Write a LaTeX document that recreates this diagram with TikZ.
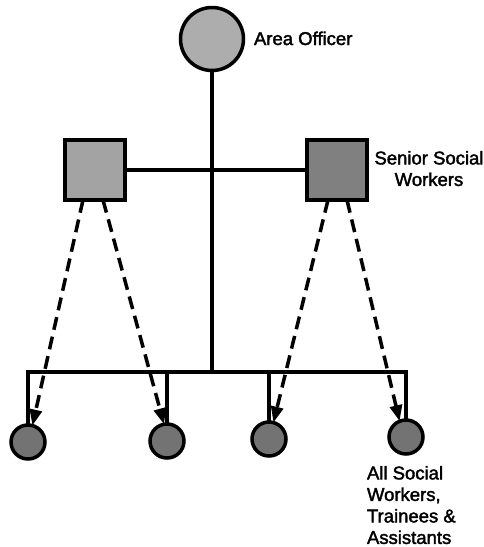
\documentclass[tikz,border=0pt]{standalone}
\usepackage{fontspec}
\setmainfont{Liberation Sans}
\newfontfamily\lblfont[FakeBold=2]{Liberation Sans}
\usetikzlibrary{arrows.meta,calc}
\begin{document}
\begin{tikzpicture}[x=1pt,y=-1pt,
  every node/.style={inner sep=0pt, outer sep=0pt},
  edge/.style={line width=3.5pt},
  head/.style={circle, draw, line width=3.5pt, fill=black!32, minimum size=63pt},
  senior/.style={rectangle, draw, line width=3.5pt, minimum size=60pt},
  staff/.style={circle, draw, line width=3.5pt, fill=black!55, minimum size=34pt},
  link/.style={line width=3.5pt, dash pattern=on 13pt off 7pt,
    -{Triangle[length=16pt,width=12pt]}},
  lbl/.style={font=\lblfont\fontsize{18.5}{21.5}\selectfont}
]
\useasboundingbox (0,0) rectangle (484,547);

% officer, senior workers and staff
\node[head] (top) at (212,39) {};
\node[senior, fill=black!36] (ls) at (95,170) {};
\node[senior, fill=black!50] (rs) at (337,170) {};
\node[staff] (c1) at (28,442) {};
\node[staff] (c2) at (167,441) {};
\node[staff] (c3) at (269,439) {};
\node[staff] (c4) at (406,437) {};

% line management
\coordinate (j) at (212,372);
\draw[edge] (ls) -- (rs);
\draw[edge] (top) -- (j);
\draw[edge] (c1.north) |- (j) -| (c4.north);
\draw[edge] (c2.north) -- (c2.north |- j);
\draw[edge] (c3.north) -- (c3.north |- j);

% supervision
\draw[link] ($(ls.south)+(-12,0)$) -- (c1.75);
\draw[link] ($(ls.south)+(8,0)$) -- (c2.100);
\draw[link] ($(rs.south)+(-9,0)$) -- (c3.75);
\draw[link] ($(rs.south)+(10,0)$) -- (c4.112);

% labels
\node[lbl, anchor=base west] (areaLbl) at (254,45) {Area Officer};
\node[lbl, align=center, anchor=north] (srLbl) at (429,151) {Senior Social\\Workers};
\node[lbl, align=left, anchor=north west] (allLbl) at (367,466) {All Social\\Workers,\\Trainees \&\\Assistants};
\end{tikzpicture}
\end{document}
